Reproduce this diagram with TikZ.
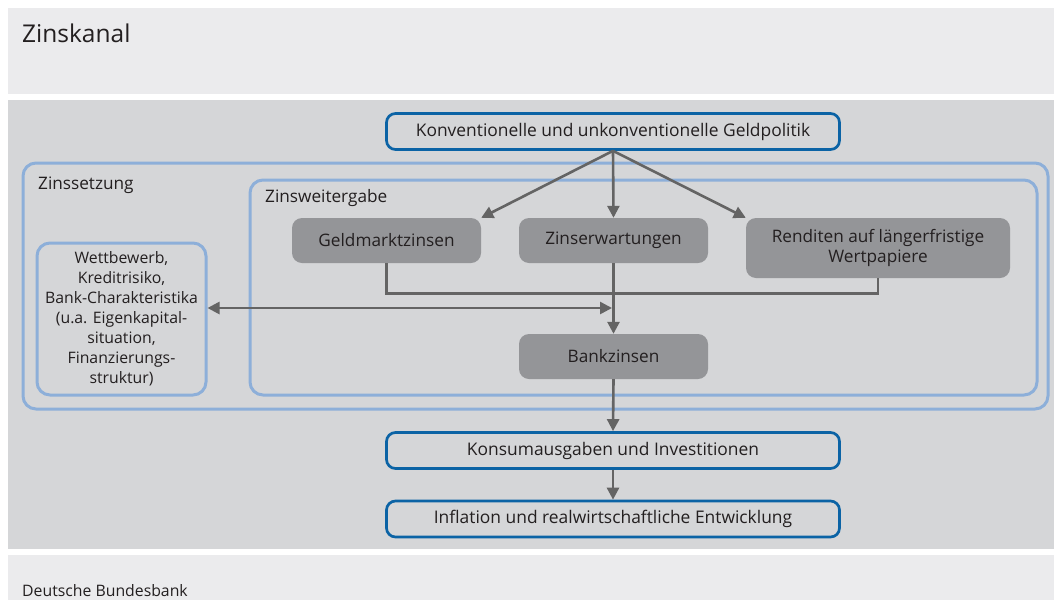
\documentclass[tikz,border=0pt]{standalone}
\usepackage{fontspec}
\setmainfont{Open Sans}
\usetikzlibrary{arrows.meta}
\definecolor{bandlt}{HTML}{EBEBED}
\definecolor{bandmid}{HTML}{D5D6D8}
\definecolor{dkblue}{HTML}{0B63A5}
\definecolor{ltblue}{HTML}{8DAFD9}
\definecolor{nodegray}{HTML}{949598}
\definecolor{arrgray}{HTML}{646464}
\definecolor{txt}{HTML}{231F20}
\tikzset{
  bluebox/.style={draw=dkblue, line width=2.7pt, rounded corners=9pt, fill=bandmid, text=txt,
    minimum width=453pt, minimum height=36pt, inner sep=0pt, font=\fontsize{17.4}{20}\selectfont},
  graybox/.style={fill=nodegray, rounded corners=10pt, text=txt, inner sep=0pt,
    minimum width=189pt, minimum height=45pt, align=center, font=\fontsize{17.2}{20}\selectfont},
  frame/.style={draw=ltblue, line width=3pt, rounded corners=13pt, inner sep=0pt},
  lbl/.style={text=txt, anchor=base west, inner sep=0pt, font=\fontsize{17.2}{20}\selectfont},
  arr/.style={draw=arrgray, line width=2.6pt, -{Triangle[length=12pt,width=12pt]}},
  darr/.style={draw=arrgray, line width=2.6pt, {Triangle[length=12pt,width=12pt]}-{Triangle[length=12pt,width=12pt]}},
  ln/.style={draw=arrgray, line width=2.6pt},
}
\begin{document}
\begin{tikzpicture}[x=1pt,y=-1pt]
\useasboundingbox (0,0) rectangle (1054,600);
\fill[white] (0,0) rectangle (1054,600);
% bands
\fill[bandlt] (8,8) rectangle (1054,94);
\fill[bandmid] (8,100) rectangle (1054,549);
\fill[bandlt] (8,555) rectangle (1054,600);
\node[text=txt, anchor=base west, inner sep=0pt, font=\fontsize{24.5}{28}\selectfont] (title) at (22,42) {Zinskanal};
\node[text=txt, anchor=base west, inner sep=0pt, font=\fontsize{15.8}{18}\selectfont] (src) at (22,596) {Deutsche Bundesbank};
% frames
\node[frame, minimum width=1025pt, minimum height=246pt] (zs) at (535.5,286) {};
\node[frame, minimum width=787pt, minimum height=215pt] (zw) at (643.5,287.5) {};
\node[lbl] (zslbl) at (38,189) {Zinssetzung};
\node[lbl] (zwlbl) at (265,202) {Zinsweitergabe};
\node[frame, minimum width=169pt, minimum height=152pt, align=center, text=txt,
  font=\fontsize{15.8}{20}\selectfont] (wb) at (121.5,319)
  {Wettbewerb,\\Kreditrisiko,\\Bank-Charakteristika\\(u.a. Eigenkapital-\\situation,\\Finanzierungs-\\struktur)};
% top and bottom
\node[bluebox] (top) at (613,131.5) {Konventionelle und unkonventionelle Geldpolitik};
\node[bluebox] (ka) at (613,450.5) {Konsumausgaben und Investitionen};
\node[bluebox] (inf) at (613,519) {Inflation und realwirtschaftliche Entwicklung};
% gray nodes
\node[graybox] (gm) at (386.5,240.5) {Geldmarktzinsen};
\node[graybox] (ze) at (613.5,240.5) {Zinserwartungen};
\node[graybox, minimum width=264pt, minimum height=60pt] (re) at (878,248) {Renditen auf längerfristige\\Wertpapiere};
\node[graybox] (bz) at (613.5,356.5) {Bankzinsen};
% connectors
\draw[arr] (top.south) -- (gm.north east);
\draw[arr] (top.south) -- (ze.north);
\draw[arr] (top.south) -- (re.north west);
\draw[ln] (gm.south) -- ++(0,30) -| (re.south);
\draw[arr] (ze.south) -- (bz.north);
\coordinate (dm) at (612,308);
\draw[darr] (wb.east |- dm) -- (dm);
\draw[arr] (bz.south) -- (ka.north);
\draw[arr] (ka.south) -- (inf.north);
\end{tikzpicture}
\end{document}
